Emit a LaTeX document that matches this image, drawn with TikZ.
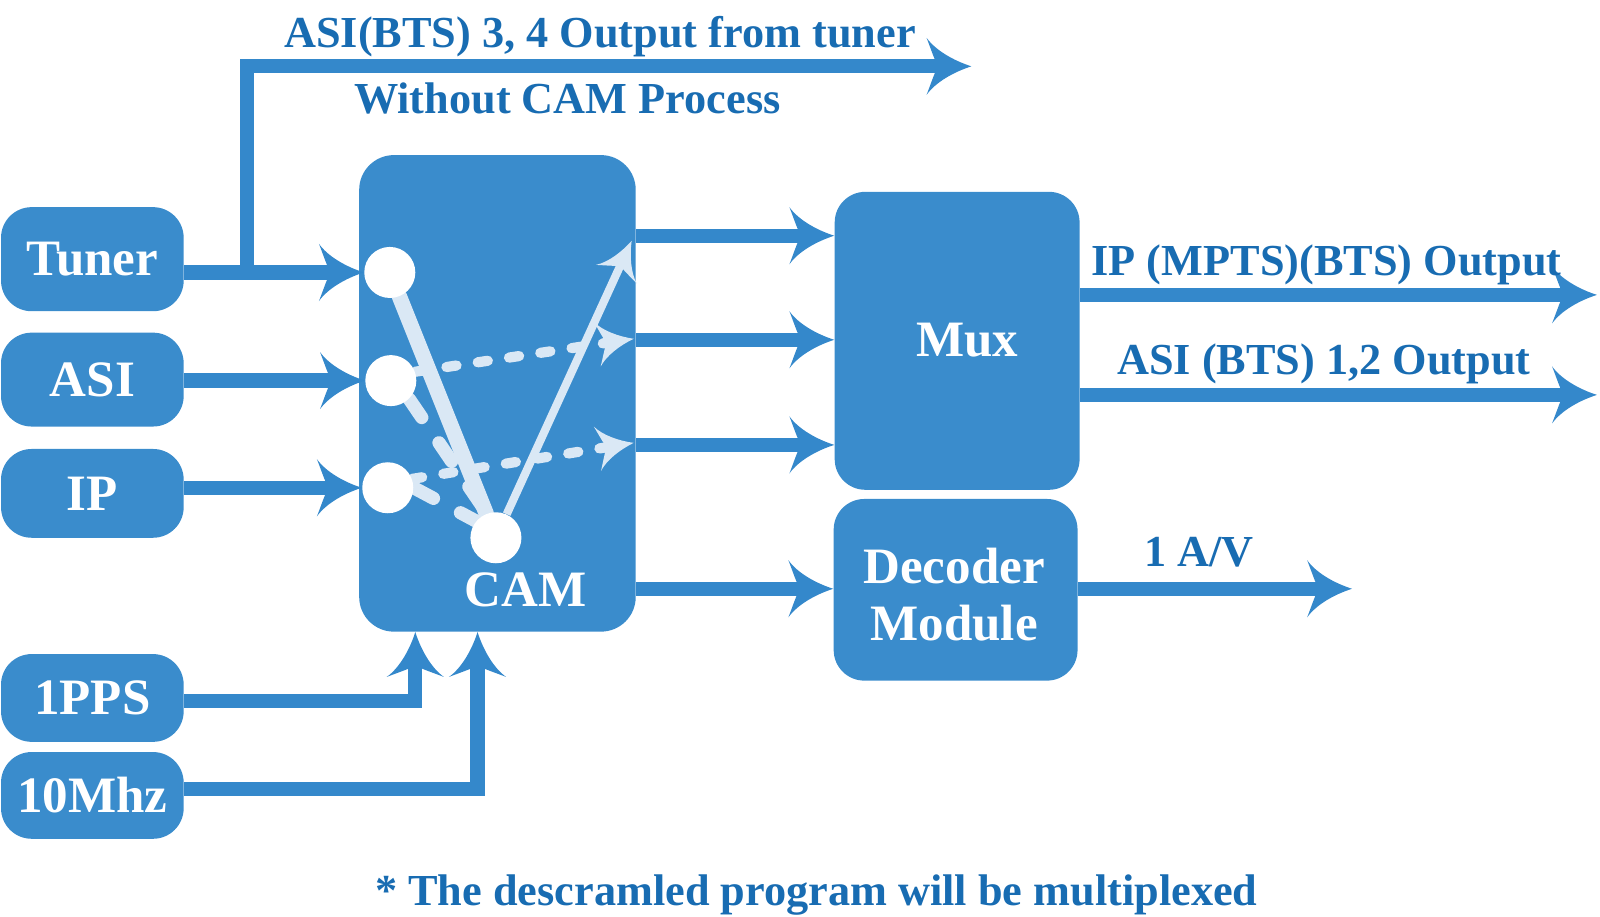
\documentclass[tikz,border=0pt]{standalone}
\usepackage{fontspec}
\setmainfont{Liberation Serif}
\usetikzlibrary{arrows.meta,calc}
\definecolor{boxblue}{RGB}{58,140,204}
\definecolor{lineblue}{RGB}{52,136,203}
\definecolor{textblue}{RGB}{24,108,178}
\definecolor{lightl}{RGB}{218,232,245}
\pgfdeclarelayer{fg}
\pgfsetlayers{main,fg}
\pgfdeclarearrow{
  name = Barbed,
  parameters = {\the\pgfarrowlength,\the\pgfarrowwidth},
  setup code = {
    \pgfarrowssettipend{0pt}
    \pgfarrowssetlineend{-0.68\pgfarrowlength}
    \pgfarrowssetbackend{-\pgfarrowlength}
    \pgfarrowsupperhullpoint{-\pgfarrowlength}{0.5\pgfarrowwidth}
    \pgfarrowsupperhullpoint{0pt}{0pt}
    \pgfarrowssavethe\pgfarrowlength
    \pgfarrowssavethe\pgfarrowwidth
  },
  drawing code = {
    \pgfpathmoveto{\pgfpointorigin}
    \pgfpathcurveto{\pgfpoint{-0.4\pgfarrowlength}{0.1\pgfarrowwidth}}{\pgfpoint{-0.8\pgfarrowlength}{0.28\pgfarrowwidth}}{\pgfpoint{-\pgfarrowlength}{0.5\pgfarrowwidth}}
    \pgfpathcurveto{\pgfpoint{-0.9\pgfarrowlength}{0.3\pgfarrowwidth}}{\pgfpoint{-0.82\pgfarrowlength}{0.1\pgfarrowwidth}}{\pgfpoint{-0.74\pgfarrowlength}{0pt}}
    \pgfpathcurveto{\pgfpoint{-0.82\pgfarrowlength}{-0.1\pgfarrowwidth}}{\pgfpoint{-0.9\pgfarrowlength}{-0.3\pgfarrowwidth}}{\pgfpoint{-\pgfarrowlength}{-0.5\pgfarrowwidth}}
    \pgfpathcurveto{\pgfpoint{-0.8\pgfarrowlength}{-0.28\pgfarrowwidth}}{\pgfpoint{-0.4\pgfarrowlength}{-0.1\pgfarrowwidth}}{\pgfpointorigin}
    \pgfpathclose
    \pgfusepathqfill
  },
  defaults = {length = 22pt, width = 28pt}
}
\tikzset{
  box/.style={fill=boxblue, draw=none, rounded corners=15pt, inner sep=0pt},
  boxtext/.style={text=white, font=\bfseries\fontsize{25pt}{30pt}\selectfont, inner sep=0pt, align=center},
  lbl/.style={text=textblue, font=\bfseries\fontsize{21.7pt}{26pt}\selectfont, inner sep=0pt, anchor=base},
  conn/.style={draw=lineblue, line width=7pt, -{Barbed[length=22pt,width=28pt]}},
  dot/.style={circle, fill=white, minimum size=25pt, inner sep=0pt},
  litesolid/.style={draw=lightl, line width=7.5pt, line cap=round},
  litearrow/.style={draw=lightl, line width=4pt, -{Barbed[length=18pt,width=22pt]}},
  litedash/.style={draw=lightl, line width=5pt, line cap=round, dash pattern=on 5pt off 10.5pt, -{Barbed[length=18pt,width=22pt]}},
  thickdash/.style={draw=lightl, line width=6.5pt, line cap=round, dash pattern=on 11pt off 15pt},
}
\begin{document}
\begin{tikzpicture}[x=0.5pt,y=-0.5pt]
\useasboundingbox (0,0) rectangle (1568,898.6);
% boxes
\node[box, minimum width=89.5pt, minimum height=51pt] (tuner) at (90.5,254) {};
\node[boxtext] (tunert) at (tuner.center) {Tuner};
\node[box, minimum width=89.5pt, minimum height=46pt] (asi) at (90.5,372) {};
\node[boxtext] (asit) at (asi.center) {ASI};
\node[box, minimum width=89.5pt, minimum height=43.5pt] (ip) at (90.5,483.5) {};
\node[boxtext] (ipt) at (ip.center) {IP};
\node[box, minimum width=89.5pt, minimum height=43pt] (pps) at (90.5,684) {};
\node[boxtext] (ppst) at (pps.center) {1PPS};
\node[box, minimum width=89.5pt, minimum height=42.5pt] (mhz) at (90.5,779.5) {};
\node[boxtext] (mhzt) at (mhz.center) {10Mhz};
\node[box, rounded corners=17pt, minimum width=135.5pt, minimum height=233.5pt] (cam) at (487.5,385.5) {};
\node[boxtext] (camt) at (515,578) {CAM};
\node[box, minimum width=120pt, minimum height=146pt] (mux) at (938,334) {};
\node[boxtext] (muxt) at (948,333) {Mux};
\node[box, minimum width=119.5pt, minimum height=89pt] (dec) at (936.5,578) {};
\node[boxtext] (dect) at (935,583) {Decoder\\[-2pt]Module};
% circles (foreground)
\begin{pgfonlayer}{fg}
\node[dot] (c1) at (382,267) {};
\node[dot] (c2) at (383,373) {};
\node[dot] (c3) at (380,478) {};
\node[dot] (c4) at (486,527) {};
\end{pgfonlayer}
% coordinates
\coordinate (tb) at (242,267);
\coordinate (topend) at (952,65);
\coordinate (o1) at (0,231);
\coordinate (o2) at (0,333);
\coordinate (o3) at (0,436);
\coordinate (o4) at (0,577);
\coordinate (m1) at (1565,289);
\coordinate (m2) at (1565,387);
\coordinate (dend) at (1325,577);
\coordinate (ppsk) at (407,687);
\coordinate (mhzk) at (468,773);
\coordinate (ta) at (619,236);
\coordinate (tb2) at (621,332);
\coordinate (tc) at (621,434);
% inputs
\draw[conn] (tuner.east |- c1) -- (c1.west);
\draw[conn] (tuner.east |- tb) -- (tb) |- (topend);
\draw[conn] (asi.east |- c2) -- (c2.west);
\draw[conn] (ip.east |- c3) -- (c3.west);
\draw[conn] (pps.east |- ppsk) -- (ppsk) -- (ppsk |- cam.south);
\draw[conn] (mhz.east |- mhzk) -- (mhzk) -- (mhzk |- cam.south);
% cam outputs
\draw[conn] (cam.east |- o1) -- (mux.west |- o1);
\draw[conn] (cam.east |- o2) -- (mux.west |- o2);
\draw[conn] (cam.east |- o3) -- (mux.west |- o3);
\draw[conn] (cam.east |- o4) -- (dec.west |- o4);
% mux and decoder outputs
\draw[conn] (mux.east |- m1) -- (m1);
\draw[conn] (mux.east |- m2) -- (m2);
\draw[conn] (dec.east |- dend) -- (dend);
% inner CAM lines
\draw[litesolid] (c1) -- (c4);
\draw[thickdash] (c2.south east) -- (c4.110);
\draw[thickdash] (c3.east) -- (c4.140);
\draw[litearrow] (c4) -- (ta);
\draw[litedash] (c2.20) -- (tb2);
\draw[litedash] (c3.20) -- (tc);
% labels
\node[lbl] (l1) at (588,47) {ASI(BTS) 3, 4 Output from tuner};
\node[lbl] (l2) at (556,111) {Without CAM Process};
\node[lbl] (l3) at (1300,270) {IP (MPTS)(BTS) Output};
\node[lbl] (l4) at (1297.5,367) {ASI (BTS) 1,2 Output};
\node[lbl] (l5) at (1175,555) {1 A/V};
\node[lbl] (l6) at (800,887) {* The descramled program will be multiplexed};
\end{tikzpicture}
\end{document}
